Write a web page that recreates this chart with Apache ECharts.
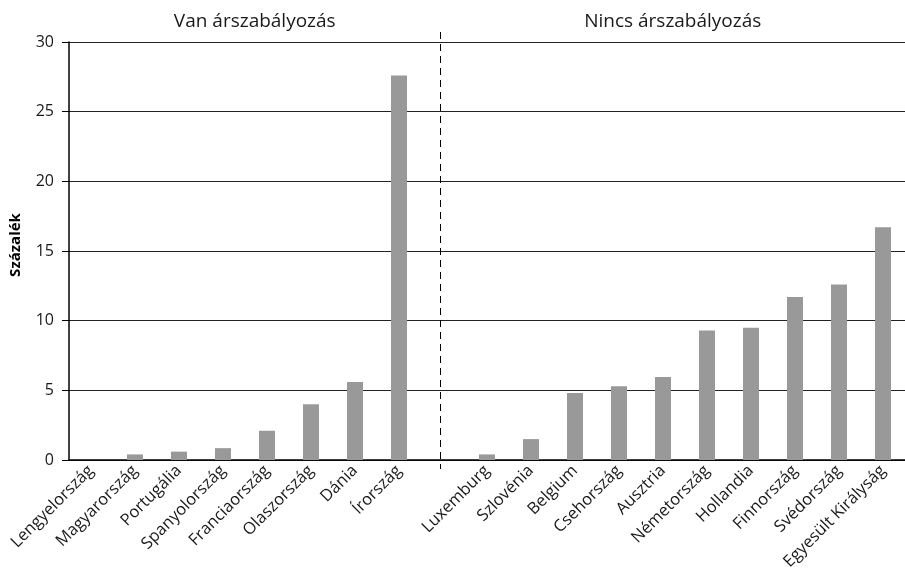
<!DOCTYPE html>
<html>
<head>
<meta charset="utf-8">
<script src="https://cdn.jsdelivr.net/npm/echarts@6/dist/echarts.min.js"></script>
<style>html,body{margin:0;padding:0;background:#fff}#c{width:905px;height:575px}</style>
</head>
<body>
<div id="c"></div>
<script>
var groupTitles = ['Van árszabályozás', 'Nincs árszabályozás'];
var regulatedCountries = ['Lengyelország','Magyarország','Portugália','Spanyolország','Franciaország','Olaszország','Dánia','Írország'];
var regulatedValues = [0, 0.4, 0.6, 0.85, 2.1, 4.0, 5.6, 27.6];
var freeCountries = ['Luxemburg','Szlovénia','Belgium','Csehország','Ausztria','Németország','Hollandia','Finnország','Svédország','Egyesült Királyság'];
var freeValues = [0.4, 1.5, 4.8, 5.3, 5.95, 9.3, 9.5, 11.7, 12.6, 16.7];
var yTicks = [0, 5, 10, 15, 20, 25, 30];
var yAxisTitle = 'Százalék';

var categories = regulatedCountries.concat(['']).concat(freeCountries);
var values = regulatedValues.concat([null]).concat(freeValues);
var FONT = '"Open Sans", "Noto Sans", sans-serif';

var chart = echarts.init(document.getElementById('c'));
chart.setOption({
  animation: false,
  grid: { left: 69, right: 0, top: 42, bottom: 115, containLabel: false },
  xAxis: {
    type: 'category',
    data: categories,
    axisLine: { lineStyle: { color: '#000', width: 1.5 } },
    axisTick: { show: false },
    axisLabel: { rotate: 45, interval: 0, fontFamily: FONT, fontSize: 16.5, color: '#1a1a1a', margin: 8 }
  },
  yAxis: {
    type: 'value',
    min: yTicks[0], max: yTicks[yTicks.length - 1], interval: 5,
    name: yAxisTitle, nameLocation: 'middle', nameGap: 46,
    nameTextStyle: { fontFamily: FONT, fontSize: 15, fontWeight: 'bold', color: '#000', padding: [0, 0, 0, 12] },
    axisLine: { show: true, lineStyle: { color: '#000', width: 1.5 } },
    axisTick: { show: true, length: 7, lineStyle: { color: '#000' } },
    axisLabel: { fontFamily: FONT, fontSize: 16, color: '#1a1a1a', margin: 15 },
    splitLine: { lineStyle: { color: '#222', width: 1 } }
  },
  series: [{
    type: 'bar',
    data: values,
    barWidth: 16,
    itemStyle: { color: '#999999' }
  }]
});

function place() {
  var xBlank = Math.round(chart.convertToPixel({ xAxisIndex: 0 }, regulatedCountries.length) - 3) + 0.5;
  var yTop = chart.convertToPixel({ yAxisIndex: 0 }, yTicks[yTicks.length - 1]);
  var y0 = chart.convertToPixel({ yAxisIndex: 0 }, 0);
  var xStart = chart.convertToPixel({ xAxisIndex: 0 }, 0) - 22;
  var xEnd = chart.convertToPixel({ xAxisIndex: 0 }, categories.length - 1) + 22;
  chart.setOption({
    graphic: [
      { type: 'line', shape: { x1: xBlank, y1: yTop - 10, x2: xBlank, y2: y0 + 9 },
        style: { stroke: '#000', lineWidth: 1, lineDash: [7, 5] }, z: 10 },
      { type: 'text', x: (xStart + xBlank) / 2, y: yTop - 20,
        style: { text: groupTitles[0], fontFamily: FONT, fontSize: 19, fill: '#1a1a1a', align: 'center', verticalAlign: 'middle' } },
      { type: 'text', x: (xBlank + xEnd) / 2, y: yTop - 20,
        style: { text: groupTitles[1], fontFamily: FONT, fontSize: 19, fill: '#1a1a1a', align: 'center', verticalAlign: 'middle' } }
    ]
  });
}
place();
</script>
</body>
</html>
